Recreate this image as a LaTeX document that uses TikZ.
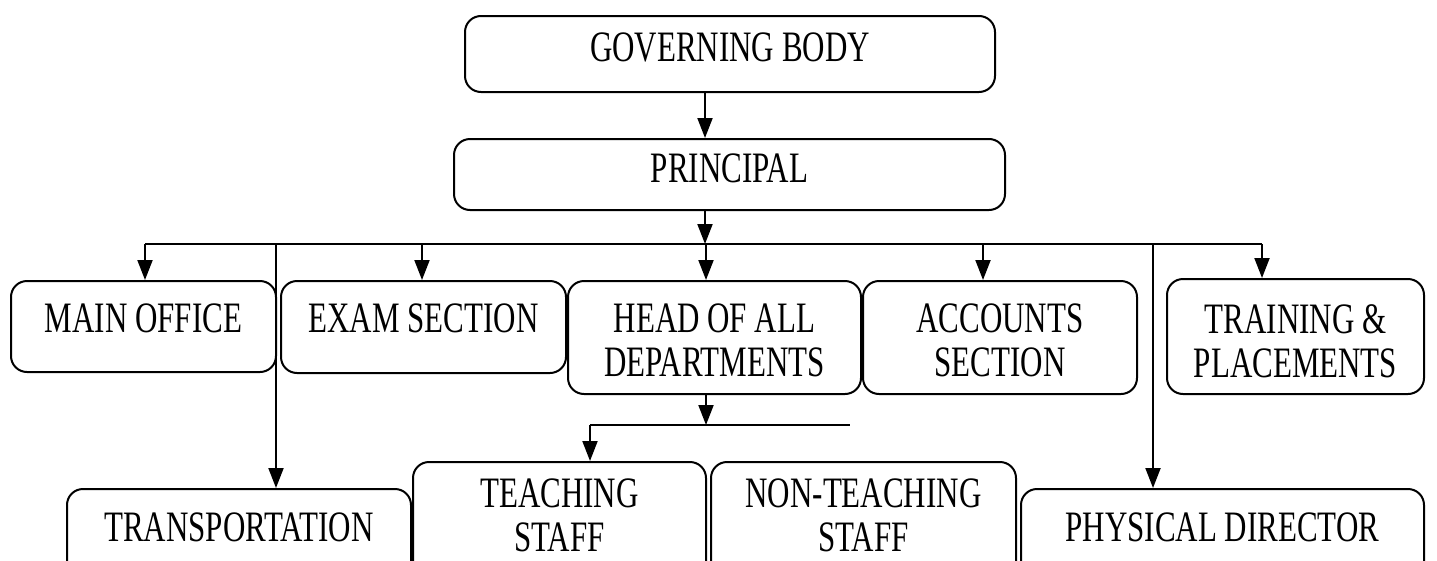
\documentclass[tikz,border=0pt]{standalone}
\usepackage{fontspec}
\setmainfont{Liberation Serif}
\usetikzlibrary{arrows.meta}

\begin{document}
\begin{tikzpicture}
  [x=1pt, y=-1pt,
   org box/.style={draw, line width=2pt, rounded corners=16pt, anchor=north west, inner sep=0pt},
   org text/.style={anchor=north, align=center, inner sep=0pt, yshift=-22pt,
     yscale=1.4, transform shape, font=\fontsize{31}{31.4}\selectfont},
   link/.style={line width=2pt, -{Triangle[length=20pt, width=15pt]}}]
  \useasboundingbox (0,0) rectangle (1437,560);
  \clip (0,0) rectangle (1437,560);
  % top
  \node[org box, minimum width=530pt, minimum height=76pt,
    label={[org text, yshift=3pt]north:GOVERNING BODY}] (gb) at (464,15) {};
  \node[org box, minimum width=551pt, minimum height=71pt,
    label={[org text, yshift=5pt]north:PRINCIPAL}] (principal) at (453,138) {};
  % second row
  \node[org box, minimum width=265pt, minimum height=91pt,
    label={[org text, yshift=-1pt]north:MAIN OFFICE}] (office) at (10,280) {};
  \node[org box, minimum width=285pt, minimum height=92pt,
    label={[org text, yshift=-1pt]north:EXAM SECTION}] (exam) at (280,280) {};
  \node[org box, minimum width=293pt, minimum height=113pt,
    label={[org text, yshift=-1pt]north:HEAD OF ALL\\DEPARTMENTS}] (hod) at (567,280) {};
  \node[org box, minimum width=274pt, minimum height=113pt,
    label={[org text, yshift=-1pt]north:ACCOUNTS\\SECTION}] (accounts) at (862,280) {};
  \node[org box, minimum width=257pt, minimum height=115pt,
    label={[org text, yshift=-3pt]north:TRAINING \&\\PLACEMENTS}] (training) at (1166,278) {};
  % third row
  \node[org box, minimum width=344pt, minimum height=100pt,
    label={[org text, yshift=-2pt]north:TRANSPORTATION}] (transport) at (66,488) {};
  \node[org box, minimum width=293pt, minimum height=120pt,
    label={[org text, yshift=3pt]north:TEACHING\\STAFF}] (teaching) at (412,461) {};
  \node[org box, minimum width=305pt, minimum height=120pt,
    label={[org text, yshift=3pt]north:NON-TEACHING\\STAFF}] (nonteaching) at (710,461) {};
  \node[org box, minimum width=403pt, minimum height=100pt,
    label={[org text, yshift=-2pt]north:PHYSICAL DIRECTOR}] (physical) at (1020,488) {};
  % bus points
  \coordinate (trunk) at (705,244);
  \coordinate (b1) at (145,244);
  \coordinate (b2) at (422,244);
  \coordinate (b3) at (706,244);
  \coordinate (b4) at (983,244);
  \coordinate (b5) at (1262,244);
  \coordinate (bt) at (276,244);
  \coordinate (bp) at (1153,244);
  \coordinate (sub) at (706,425);
  \coordinate (subL) at (590,425);
  \coordinate (subR) at (850,425);
  % connectors
  \draw[link] (gb.south -| trunk) -- (principal.north -| trunk);
  \draw[link] (principal.south -| trunk) -- (trunk);
  \draw[line width=2pt] (b1) -- (b5);
  \draw[link] (b1) -- (office.north -| b1);
  \draw[link] (b2) -- (exam.north -| b2);
  \draw[link] (b3) -- (hod.north -| b3);
  \draw[link] (b4) -- (accounts.north -| b4);
  \draw[link] (b5) -- (training.north -| b5);
  \draw[link] (bt) -- (transport.north -| bt);
  \draw[link] (bp) -- (physical.north -| bp);
  \draw[link] (hod.south -| sub) -- (sub);
  \draw[line width=2pt] (subL) -- (subR);
  \draw[link] (subL) -- (teaching.north -| subL);
\end{tikzpicture}
\end{document}
